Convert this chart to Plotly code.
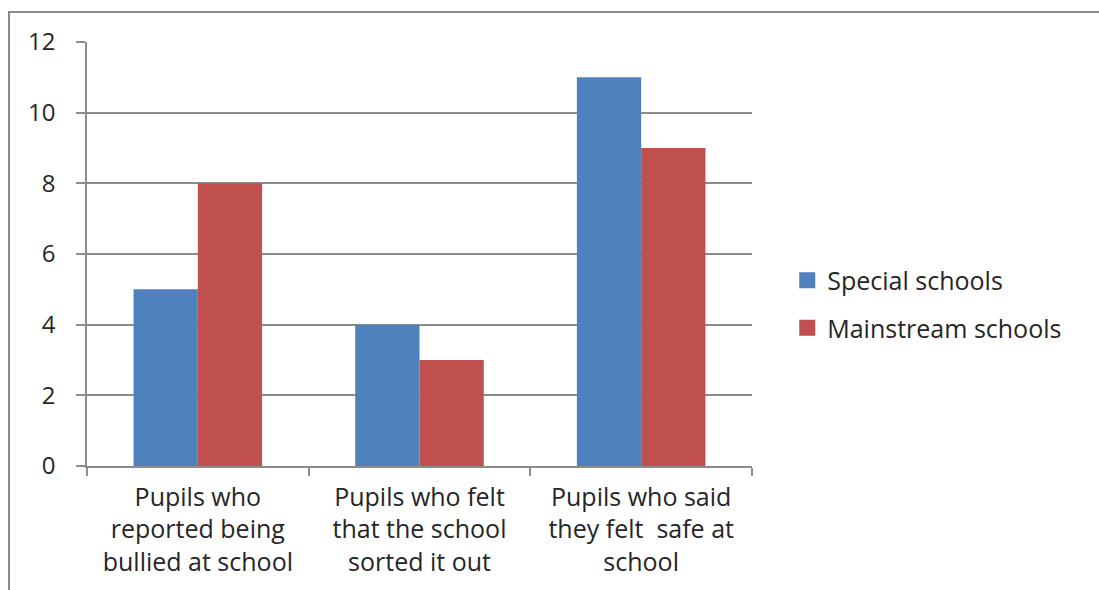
import plotly.graph_objects as go

categories = [
    "Pupils who<br>reported being<br>bullied at school",
    "Pupils who felt<br>that the school<br>sorted it out",
    "Pupils who said<br>they felt  safe at<br>school",
]
special_schools = [5, 4, 11]
mainstream_schools = [8, 3, 9]
y_ticks = [0, 2, 4, 6, 8, 10, 12]

BLUE = "#4F81BD"
RED = "#C0504D"
GRID = "#8C8C8C"
FONT = "Open Sans"

fig = go.Figure()
fig.add_trace(go.Bar(x=categories, y=special_schools, name="Special schools",
                     marker=dict(color=BLUE, line=dict(width=0)), showlegend=False))
fig.add_trace(go.Bar(x=categories, y=mainstream_schools, name="Mainstream schools",
                     marker=dict(color=RED, line=dict(width=0)), showlegend=False))

# legend entries with larger square swatches
for name, color in [("Special schools", BLUE), ("Mainstream schools", RED)]:
    fig.add_trace(go.Scatter(x=[None], y=[None], mode="markers", name=name,
                             legendgroup=name,
                             marker=dict(symbol="square", size=16, color=color)))

fig.update_layout(
    width=1099, height=590,
    margin=dict(l=87, r=347, t=42, b=124),
    paper_bgcolor="white", plot_bgcolor="white",
    barmode="group", bargap=0.42, bargroupgap=0,
    font=dict(family=FONT, color="#262626"),
    legend=dict(x=1.053, y=0.382, xanchor="left", yanchor="middle",
                font=dict(size=25, family=FONT), tracegroupgap=12,
                itemsizing="trace", itemwidth=30),
    shapes=[dict(type="rect", xref="paper", yref="paper",
                 x0=-0.1173, x1=2, y0=-1, y1=1.0708,
                 line=dict(color="#8A8A8A", width=2), layer="below")],
)
fig.update_xaxes(
    showline=True, linecolor=GRID, linewidth=1.5,
    ticks="outside", ticklen=8, tickcolor=GRID, tickwidth=1.5,
    tickson="boundaries", tickfont=dict(size=25, family=FONT),
    showgrid=False, ticklabelstandoff=8,
)
fig.update_yaxes(
    range=[0, 12], tickvals=y_ticks,
    showline=True, linecolor=GRID, linewidth=1.5,
    ticks="outside", ticklen=9, tickcolor=GRID, tickwidth=1.5,
    showgrid=True, gridcolor=GRID, gridwidth=1.5,
    zeroline=False, tickfont=dict(size=24, family=FONT),
    ticklabelstandoff=16,
)

fig.write_html("out.html")
